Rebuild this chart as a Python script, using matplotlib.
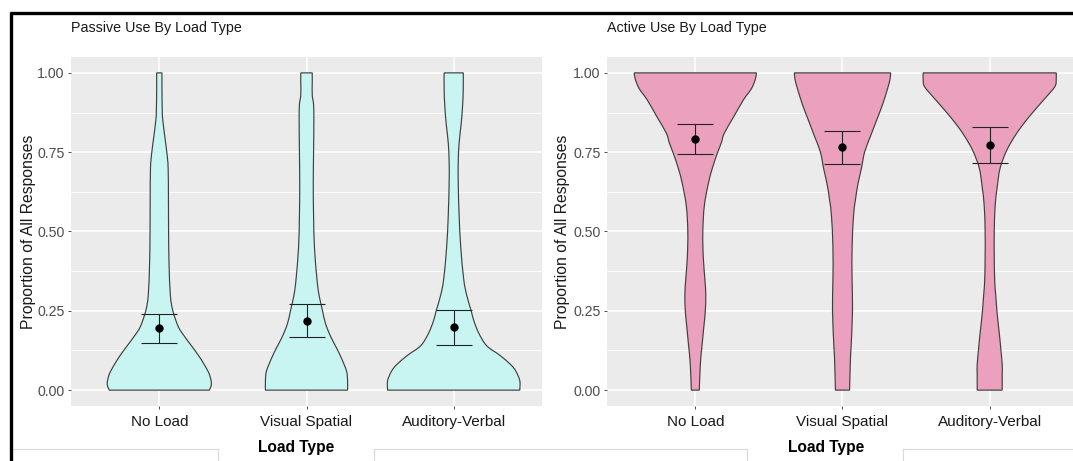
import numpy as np
import matplotlib
matplotlib.use("Agg")
import matplotlib.pyplot as plt
from matplotlib.path import Path
from matplotlib.patches import PathPatch
from matplotlib.lines import Line2D

plt.rcParams['font.family'] = ['Liberation Sans', 'DejaVu Sans']

categories = ["No Load", "Visual Spatial", "Auditory-Verbal"]
y_ticks = [0.00, 0.25, 0.50, 0.75, 1.00]
y_tick_labels = ["0.00", "0.25", "0.50", "0.75", "1.00"]

# Violin half-width profiles: (proportion, half width in category units)
passive_no_load = [(0.00, 0.340), (0.02, 0.354), (0.05, 0.340), (0.08, 0.306), (0.11, 0.265),
                   (0.14, 0.218), (0.17, 0.170), (0.20, 0.129), (0.25, 0.092), (0.30, 0.075),
                   (0.40, 0.066), (0.50, 0.063), (0.60, 0.062), (0.70, 0.060), (0.75, 0.051),
                   (0.80, 0.037), (0.85, 0.024), (0.88, 0.020), (0.95, 0.018), (1.00, 0.018)]
passive_visual = [(0.00, 0.279), (0.03, 0.279), (0.06, 0.272), (0.10, 0.238), (0.133, 0.204),
                  (0.17, 0.163), (0.21, 0.129), (0.25, 0.109), (0.30, 0.085), (0.35, 0.071),
                  (0.45, 0.054), (0.55, 0.048), (0.65, 0.046), (0.75, 0.048), (0.85, 0.050),
                  (0.90, 0.048), (0.93, 0.039), (0.97, 0.039), (1.00, 0.039)]
passive_auditory = [(0.00, 0.449), (0.03, 0.449), (0.06, 0.422), (0.08, 0.388), (0.11, 0.313),
                    (0.14, 0.224), (0.18, 0.170), (0.22, 0.136), (0.25, 0.119), (0.30, 0.088),
                    (0.35, 0.068), (0.45, 0.048), (0.55, 0.037), (0.65, 0.031), (0.72, 0.031),
                    (0.78, 0.037), (0.84, 0.051), (0.90, 0.061), (0.95, 0.065), (1.00, 0.065)]
active_no_load = [(0.00, 0.027), (0.05, 0.031), (0.10, 0.037), (0.133, 0.044), (0.20, 0.058),
                  (0.25, 0.068), (0.30, 0.071), (0.35, 0.065), (0.42, 0.054), (0.50, 0.051),
                  (0.58, 0.061), (0.65, 0.088), (0.70, 0.116), (0.747, 0.150), (0.78, 0.177),
                  (0.81, 0.197), (0.86, 0.259), (0.915, 0.327), (0.95, 0.381), (0.98, 0.408),
                  (1.00, 0.415)]
active_visual = [(0.00, 0.048), (0.10, 0.054), (0.133, 0.058), (0.25, 0.068), (0.35, 0.065),
                 (0.45, 0.065), (0.55, 0.075), (0.60, 0.088), (0.65, 0.105), (0.70, 0.129),
                 (0.75, 0.150), (0.80, 0.190), (0.85, 0.231), (0.90, 0.272), (0.95, 0.306),
                 (0.98, 0.323), (1.00, 0.327)]
active_auditory = [(0.00, 0.085), (0.05, 0.085), (0.08, 0.085), (0.133, 0.075), (0.18, 0.065),
                   (0.24, 0.051), (0.30, 0.041), (0.345, 0.034), (0.42, 0.031), (0.50, 0.031),
                   (0.58, 0.037), (0.64, 0.051), (0.70, 0.071), (0.756, 0.116), (0.81, 0.184),
                   (0.86, 0.265), (0.915, 0.367), (0.956, 0.442), (0.98, 0.452), (1.00, 0.452)]

# Means with lower / upper error bounds
passive_mean = [0.195, 0.218, 0.199]
passive_low = [0.150, 0.168, 0.142]
passive_high = [0.240, 0.271, 0.254]
active_mean = [0.793, 0.765, 0.774]
active_low = [0.745, 0.712, 0.717]
active_high = [0.839, 0.817, 0.829]

W, H = 1073, 461
fig = plt.figure(figsize=(W / 100, H / 100), dpi=100)
fig.patch.set_facecolor("white")


def side_path(pts):
    """Cubic Bezier segments (Catmull-Rom tangents) through a list of points."""
    pts = np.asarray(pts, float)
    n = len(pts)
    verts, codes = [], []
    for i in range(n - 1):
        p0 = pts[max(i - 1, 0)]
        p1 = pts[i]
        p2 = pts[i + 1]
        p3 = pts[min(i + 2, n - 1)]
        c1 = p1 + (p2 - p0) / 6.0
        c2 = p2 - (p3 - p1) / 6.0
        verts += [tuple(c1), tuple(c2), tuple(p2)]
        codes += [Path.CURVE4] * 3
    return verts, codes


def violin(ax, center, profile, color):
    prof = np.asarray(profile, float)
    left = [(center - w, v) for v, w in prof]
    right = [(center + w, v) for v, w in prof[::-1]]
    verts = [left[0]]
    codes = [Path.MOVETO]
    v, c = side_path(left)
    verts += v
    codes += c
    verts.append(right[0])
    codes.append(Path.LINETO)
    v, c = side_path(right)
    verts += v
    codes += c
    verts.append(left[0])
    codes.append(Path.CLOSEPOLY)
    ax.add_patch(PathPatch(Path(verts, codes), facecolor=color, edgecolor="#404040",
                           lw=0.85, zorder=3))


def panel(rect, profiles, means, lows, highs, color):
    ax = fig.add_axes(rect)
    ax.set_facecolor("#EBEBEB")
    ax.patch.set_edgecolor("none")
    for s in ax.spines.values():
        s.set_visible(False)
    x = np.arange(len(categories))
    ax.set_xlim(-0.6, len(categories) - 0.4)
    ax.set_ylim(-0.05, 1.05)
    ax.set_yticks(y_ticks)
    ax.set_yticklabels(y_tick_labels)
    ax.set_yticks([0.125, 0.375, 0.625, 0.875], minor=True)
    ax.set_xticks(x)
    ax.set_xticklabels(categories)
    ax.grid(which="major", color="white", lw=1.1, zorder=0)
    ax.grid(which="minor", axis="y", color="white", lw=0.6, zorder=0)
    ax.set_axisbelow(True)
    ax.tick_params(axis="both", which="major", length=2.2, width=0.6, color="#333333",
                   pad=2.5, labelcolor="#4D4D4D")
    ax.tick_params(axis="y", labelsize=10.2)
    ax.tick_params(axis="x", labelsize=11, labelcolor="#1a1a1a", pad=4)
    ax.tick_params(which="minor", length=0)
    for xi, prof in zip(x, profiles):
        violin(ax, xi, prof, color)
    m = np.array(means)
    ax.errorbar(x, m, yerr=[m - np.array(lows), np.array(highs) - m], fmt="none",
                ecolor="#222222", elinewidth=0.8, capsize=13.3, capthick=0.8, zorder=4)
    ax.plot(x, m, "o", color="black", ms=5, zorder=5)
    return ax


ax_w = 471 / W
ax_h = 349 / H
ax_y = 1 - 406 / H
axL = panel([71 / W, ax_y, ax_w, ax_h],
            [passive_no_load, passive_visual, passive_auditory],
            passive_mean, passive_low, passive_high, "#C8F5F2")
axR = panel([607 / W, ax_y, ax_w, ax_h],
            [active_no_load, active_visual, active_auditory],
            active_mean, active_low, active_high, "#EBA0BE")

# Titles and axis titles
fig.text(71 / W, 1 - 28 / H, "Passive Use By Load Type", fontsize=10.3, va="center",
         ha="left", color="#1a1a1a")
fig.text(607 / W, 1 - 28 / H, "Active Use By Load Type", fontsize=10.3, va="center",
         ha="left", color="#1a1a1a")
for xl in (29, 563):
    fig.text(xl / W, 1 - 232 / H, "Proportion of All Responses", rotation=90,
             fontsize=11.3, va="center", ha="center", color="#1a1a1a")
for xc in (296, 826):
    fig.text(xc / W, 1 - 447 / H, "Load Type", fontsize=11.2, fontweight="bold",
             va="center", ha="center", color="black")

# Thin grey frame lines along the bottom
grey = "#d9d9d9"
yb = 1 - 449 / H
for x0, x1 in [(12, 218), (374, 747), (903, 1073)]:
    fig.add_artist(Line2D([x0 / W, x1 / W], [yb, yb], color=grey, lw=0.8))
for xv in (218, 374, 747, 903):
    fig.add_artist(Line2D([xv / W, xv / W], [yb, 0], color=grey, lw=0.8))

# Heavy black frame on the top and left
fig.add_artist(Line2D([9.5 / W, 1.0], [1 - 13.5 / H, 1 - 13.5 / H], color="black", lw=2.4,
                      solid_capstyle="butt"))
fig.add_artist(Line2D([10.5 / W, 10.5 / W], [1 - 12.5 / H, 0.0], color="black", lw=2.4,
                      solid_capstyle="butt"))

fig.savefig("out.png", dpi=100, facecolor="white")
